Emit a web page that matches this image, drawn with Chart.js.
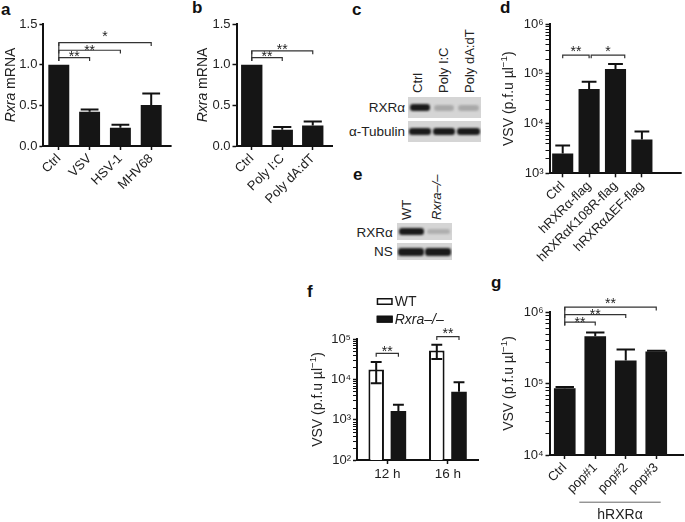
<!DOCTYPE html>
<html>
<head>
<meta charset="utf-8">
<script src="https://cdn.jsdelivr.net/npm/chart.js@4.4.1/dist/chart.umd.min.js"></script>
<style>
  html, body { margin:0; padding:0; background:#fff; }
  body { position:relative; width:685px; height:522px; overflow:hidden; font-family:'Liberation Sans', Arial, Helvetica, sans-serif; color:#222; }
  canvas { position:absolute; }
  .letter { position:absolute; font-weight:bold; font-size:17px; line-height:17px; color:#111; }
  .blot { position:absolute; background:#d5d5d5; overflow:hidden; }
  .band { position:absolute; border-radius:3px; filter:blur(1px); }
  .rl { position:absolute; font-size:13.5px; line-height:15px; white-space:nowrap; text-align:right; }
  .vl { position:absolute; font-size:13px; line-height:14px; white-space:nowrap; transform-origin:0 0; transform:rotate(-90deg) translateY(-50%); }
</style>
</head>
<body>
<div class="letter" style="left:1px;top:0.5px">a</div>
<div class="letter" style="left:192px;top:-1px">b</div>
<div class="letter" style="left:352px;top:0.5px">c</div>
<div class="letter" style="left:500px;top:-1px">d</div>
<div class="letter" style="left:353px;top:165.5px">e</div>
<div class="letter" style="left:307px;top:282.5px">f</div>
<div class="letter" style="left:491px;top:274.3px">g</div>

<!-- panel c blot -->
<div class="vl" style="left:417.5px;top:93px">Ctrl</div>
<div class="vl" style="left:443.5px;top:93px">Poly I:C</div>
<div class="vl" style="left:470px;top:93px">Poly dA:dT</div>
<div class="rl" style="right:280px;top:99.5px">RXRα</div>
<div class="rl" style="right:280px;top:124px">α-Tubulin</div>
<div class="blot" style="left:408px;top:97px;width:73px;height:21px">
  <div class="band" style="left:2px;top:7px;width:20px;height:7px;background:#1a1a1a"></div>
  <div class="band" style="left:26px;top:8px;width:20px;height:6px;background:rgba(90,90,90,0.35)"></div>
  <div class="band" style="left:50px;top:8px;width:21px;height:6px;background:rgba(90,90,90,0.35)"></div>
</div>
<div class="blot" style="left:408px;top:121px;width:73px;height:21px">
  <div class="band" style="left:1px;top:7px;width:22px;height:7px;background:#1a1a1a"></div>
  <div class="band" style="left:25px;top:7px;width:22px;height:7px;background:#1a1a1a"></div>
  <div class="band" style="left:49px;top:7px;width:23px;height:7px;background:#1a1a1a"></div>
</div>

<!-- panel e blot -->
<div class="vl" style="left:406.7px;top:220px">WT</div>
<div class="vl" style="left:436.7px;top:220px;font-style:italic">Rxra–/–</div>
<div class="rl" style="right:292.3px;top:225px">RXRα</div>
<div class="rl" style="right:292.3px;top:244px">NS</div>
<div class="blot" style="left:397px;top:223px;width:55px;height:17px">
  <div class="band" style="left:2px;top:5px;width:25px;height:7px;background:#1a1a1a"></div>
  <div class="band" style="left:30px;top:6px;width:23px;height:5px;background:rgba(90,90,90,0.3)"></div>
</div>
<div class="blot" style="left:397px;top:243px;width:55px;height:17px">
  <div class="band" style="left:1px;top:5px;width:26px;height:8px;background:#1a1a1a"></div>
  <div class="band" style="left:28px;top:5px;width:26px;height:8px;background:#1a1a1a"></div>
</div>

<canvas id="cA"></canvas>
<canvas id="cB"></canvas>
<canvas id="cD"></canvas>
<canvas id="cF"></canvas>
<canvas id="cG"></canvas>

<script>
// ---------------- DATA ----------------
const aCategories = ['Ctrl', 'VSV', 'HSV-1', 'MHV68'];
const aValues = [1.0, 0.42, 0.225, 0.505];
const aErrors = [0, 0.028, 0.035, 0.14];
const aYTicks = [0, 0.5, 1.0, 1.5];
const aBrackets = [[0, 1, 1.086, '**'], [0, 2, 1.177, '**'], [0, 3, 1.27, '*']];

const bCategories = ['Ctrl', 'Poly I:C', 'Poly dA:dT'];
const bValues = [1.0, 0.20, 0.253];
const bErrors = [0, 0.033, 0.047];
const bBrackets = [[0, 1, 1.086, '**'], [0, 2, 1.17, '**']];

const dCategories = ['Ctrl', 'hRXRα-flag', 'hRXRαK108R-flag', 'hRXRαΔEF-flag'];
const dValues = [2500, 49500, 125000, 4800];
const dErrors = [1100, 19500, 32000, 2100];
const dBrackets = [[0, 1, 238000, '**'], [1.08, 2.35, 238000, '*']];

const fCategories = ['12 h', '16 h'];
const fSeries = ['WT', 'Rxra–/–'];
const fWT = [17500, 52000];
const fWTErrors = [9500, 20000];
const fKO = [1650, 4900];
const fKOErrors = [700, 3600];
const fBrackets = [[0, 44000, '**'], [1, 114000, '**']];

const gCategories = ['Ctrl', 'pop#1', 'pop#2', 'pop#3'];
const gValues = [86000, 458000, 209000, 280000];
const gErrors = [3000, 60000, 91000, 8000];
const gBrackets = [[0, 1, 720000, '**'], [0, 2, 916000, '**'], [0, 3, 1170000, '**']];
const gGroupLabel = 'hRXRα';

// ---------------- HELPERS ----------------
const FONT = "'Liberation Sans', Arial, Helvetica, sans-serif";
const TICK_SIZE = 13, TITLE_SIZE = 14, STAR_SIZE = 14;
Chart.defaults.font.family = FONT;
Chart.defaults.color = '#222';
const SUP = {'0':'⁰','1':'¹','2':'²','3':'³','4':'⁴','5':'⁵','6':'⁶','7':'⁷','8':'⁸','9':'⁹','-':'⁻'};
function isPow10(v) { if (!(v > 0)) return false; const p = Math.log10(v); return Math.abs(p - Math.round(p)) < 1e-6; }
function pow10Label(v) { if (!isPow10(v)) return ''; return '10' + String(Math.round(Math.log10(v))).split('').map(c => SUP[c]).join(''); }

const VSV_TITLE = [{t:'VSV (p.f.u µl'}, {t:'−1', sup:true}, {t:')'}];

function drawRich(ctx, segs, cx, cy, size) {
  ctx.save();
  ctx.translate(cx, cy); ctx.rotate(-Math.PI / 2);
  ctx.fillStyle = '#222'; ctx.textAlign = 'left'; ctx.textBaseline = 'alphabetic';
  let total = 0;
  const m = segs.map(s => {
    const sz = s.sup ? size * 0.7 : size;
    const f = (s.i ? 'italic ' : '') + sz + 'px ' + FONT;
    ctx.font = f; const w = ctx.measureText(s.t).width; total += w;
    return {f, w};
  });
  let x = -total / 2;
  segs.forEach((s, k) => {
    ctx.font = m[k].f;
    ctx.fillText(s.t, x, s.sup ? size * 0.35 - size * 0.42 : size * 0.35);
    x += m[k].w;
  });
  ctx.restore();
}

const figPlugin = {
  id: 'fig',
  afterDatasetsDraw(chart, args, o) {
    if (!o.errors) return;
    const ctx = chart.ctx, ys = chart.scales.y;
    ctx.save();
    ctx.strokeStyle = '#111'; ctx.lineWidth = 2;
    o.errors.forEach((errs, di) => {
      if (!errs) return;
      const meta = chart.getDatasetMeta(di);
      const vals = chart.data.datasets[di].data;
      meta.data.forEach((bar, i) => {
        const e = errs[i]; if (!e) return;
        const v = vals[i];
        const yTop = ys.getPixelForValue(v + e);
        const both = o.twoSided && o.twoSided[di];
        const yBot = both ? ys.getPixelForValue(v - e) : bar.y;
        const half = bar.width * o.cap / 2;
        ctx.beginPath();
        ctx.moveTo(bar.x, yBot); ctx.lineTo(bar.x, yTop);
        ctx.moveTo(bar.x - half, yTop); ctx.lineTo(bar.x + half, yTop);
        if (both) { ctx.moveTo(bar.x - half, yBot); ctx.lineTo(bar.x + half, yBot); }
        ctx.stroke();
      });
    });
    ctx.restore();
  },
  afterDraw(chart, args, o) {
    const ctx = chart.ctx, xs = chart.scales.x, ys = chart.scales.y, ca = chart.chartArea;
    const step = xs.getPixelForValue(1) - xs.getPixelForValue(0);
    const xAt = v => xs.getPixelForValue(0) + v * step;
    ctx.save();
    if (o.ext) {
      ctx.strokeStyle = '#111'; ctx.lineWidth = 2;
      ctx.beginPath(); ctx.moveTo(ca.right - 1, Math.round(ca.bottom)); ctx.lineTo(ca.right + o.ext, Math.round(ca.bottom)); ctx.stroke();
    }
    if (o.minor) {
      ctx.strokeStyle = '#111'; ctx.lineWidth = 1;
      const p0 = Math.round(Math.log10(ys.min)), p1 = Math.round(Math.log10(ys.max));
      ctx.beginPath();
      for (let p = p0; p < p1; p++) for (let m = 2; m <= 9; m++) {
        const y = Math.round(ys.getPixelForValue(m * Math.pow(10, p))) + 0.5;
        ctx.moveTo(ca.left - 1 - o.minor, y); ctx.lineTo(ca.left, y);
      }
      ctx.stroke();
    }
    if (o.title) drawRich(ctx, o.title, o.titleX, (ca.top + ca.bottom) / 2, TITLE_SIZE);
    if (o.brackets) {
      const tk = 3.3;
      const items = o.brackets.map((b, k) => {
        let x1, x2, yv, label;
        if (o.pairMode) {
          const cat = b[0];
          x1 = chart.getDatasetMeta(0).data[cat].x; x2 = chart.getDatasetMeta(1).data[cat].x;
          yv = b[1]; label = b[2];
        } else { x1 = xAt(b[0]); x2 = xAt(b[1]); yv = b[2]; label = b[3]; }
        return {x1, x2, y: ys.getPixelForValue(yv), label, gap: o.gaps[k]};
      });
      ctx.strokeStyle = '#333'; ctx.lineWidth = 1.2;
      ctx.fillStyle = '#222'; ctx.font = STAR_SIZE + 'px ' + FONT; ctx.textAlign = 'center'; ctx.textBaseline = 'alphabetic';
      items.forEach(it => {
        ctx.beginPath();
        ctx.moveTo(it.x1, it.y + tk); ctx.lineTo(it.x1, it.y); ctx.lineTo(it.x2, it.y); ctx.lineTo(it.x2, it.y + tk);
        ctx.stroke();
        ctx.fillText(it.label, (it.x1 + it.x2) / 2, it.y - it.gap + 0.575 * STAR_SIZE);
      });
      if (o.joinLeft && items.length > 1) {
        const ysv = items.map(i => i.y);
        ctx.beginPath(); ctx.moveTo(items[0].x1, Math.min(...ysv)); ctx.lineTo(items[0].x1, Math.max(...ysv) + tk); ctx.stroke();
      }
    }
    if (o.legend) {
      const lg = o.legend;
      chart.data.datasets.forEach((ds, i) => {
        const y = lg.y + i * lg.dy;
        ctx.fillStyle = ds.backgroundColor; ctx.fillRect(lg.x, y, lg.w, lg.h);
        ctx.strokeStyle = '#111'; ctx.lineWidth = 1.5; ctx.strokeRect(lg.x + 0.75, y + 0.75, lg.w - 1.5, lg.h - 1.5);
        ctx.fillStyle = '#222'; ctx.font = (lg.italic[i] ? 'italic ' : '') + '14px ' + FONT;
        ctx.textAlign = 'left'; ctx.textBaseline = 'middle';
        ctx.fillText(ds.label, lg.x + lg.w + lg.tx, y + lg.h / 2 + 0.5);
      });
    }
    if (o.group) {
      const g = o.group; const x1 = xAt(g.from), x2 = xAt(g.to);
      ctx.strokeStyle = '#666'; ctx.lineWidth = 1;
      ctx.beginPath(); ctx.moveTo(x1, g.y + 0.5); ctx.lineTo(x2, g.y + 0.5); ctx.stroke();
      ctx.fillStyle = '#222'; ctx.font = '14px ' + FONT; ctx.textAlign = 'center'; ctx.textBaseline = 'middle';
      ctx.fillText(g.text, (x1 + x2) / 2, g.ty);
    }
    ctx.restore();
  }
};

function buildChart(id, box, area, o) {
  const cv = document.getElementById(id);
  cv.width = box.w; cv.height = box.h;
  cv.style.left = box.x + 'px'; cv.style.top = box.y + 'px';
  cv.style.width = box.w + 'px'; cv.style.height = box.h + 'px';
  const L = area.left - box.x, T = area.top - box.y, R = box.x + box.w - area.right, B = area.bottom - box.y;
  const xH = box.h - B;
  const fig = Object.assign({}, o.fig, {titleX: o.titleX - box.x});
  if (fig.group) fig.group = Object.assign({}, fig.group, {y: fig.group.y - box.y, ty: fig.group.ty - box.y});
  if (fig.legend) fig.legend = Object.assign({}, fig.legend, {x: fig.legend.x - box.x, y: fig.legend.y - box.y});
  return new Chart(cv, {
    type: 'bar',
    data: { labels: o.labels, datasets: o.datasets },
    plugins: [figPlugin],
    options: {
      responsive: false, animation: false, devicePixelRatio: 1,
      layout: { padding: { left: 0, top: T, right: R, bottom: 0 } },
      plugins: { legend: { display: false }, tooltip: { enabled: false }, fig },
      scales: {
        x: {
          type: 'category', offset: true, z: 1,
          grid: { display: true, drawOnChartArea: false, drawTicks: true, tickLength: 4, tickWidth: 1.5, tickColor: '#111', offset: false },
          border: { display: true, color: '#111', width: 2 },
          ticks: { color: '#222', font: { size: o.xFont || TICK_SIZE }, padding: o.xPad || 1, autoSkip: false, minRotation: o.rot, maxRotation: o.rot },
          afterFit(s) { s.height = xH; s.paddingLeft = 0; s.paddingRight = 0; }
        },
        y: Object.assign({
          z: 1,
          grid: { display: true, drawOnChartArea: false, drawTicks: true, tickLength: 4, tickWidth: 1.5, tickColor: o.yTickColor || '#111' },
          border: { display: true, color: '#111', width: 2 },
          ticks: Object.assign({ color: '#222', font: { size: TICK_SIZE }, padding: 2, autoSkip: false }, o.yTicks),
          afterFit(s) { s.width = L; s.paddingTop = 0; s.paddingBottom = 0; }
        }, o.y)
      }
    }
  });
}

const BAR = '#151515';
const logTickColor = ctx => (ctx.tick && isPow10(ctx.tick.value)) ? '#111' : 'rgba(0,0,0,0)';

// Panel a
buildChart('cA', {x:0, y:0, w:180, h:215}, {left:43.4, top:24, right:166.6, bottom:146}, {
  labels: aCategories, rot: 45, titleX: 10,
  datasets: [{ label: 'Rxra mRNA', data: aValues, backgroundColor: BAR, borderWidth: 0, barPercentage: 0.68, categoryPercentage: 1 }],
  y: { type: 'linear', min: aYTicks[0], max: aYTicks[aYTicks.length - 1] },
  yTicks: { stepSize: 0.5, callback: v => Number(v).toFixed(1) },
  fig: { errors: [aErrors], cap: 0.85, ext: 5, title: [{t:'Rxra', i:true}, {t:' mRNA'}],
         brackets: aBrackets, gaps: [4.4, 3.5, 9.4], joinLeft: true }
});

// Panel b
buildChart('cB', {x:180, y:0, w:160, h:215}, {left:236.5, top:24, right:328, bottom:146}, {
  labels: bCategories, rot: 45, titleX: 202,
  datasets: [{ label: 'Rxra mRNA', data: bValues, backgroundColor: BAR, borderWidth: 0, barPercentage: 0.7, categoryPercentage: 1 }],
  y: { type: 'linear', min: aYTicks[0], max: aYTicks[aYTicks.length - 1] },
  yTicks: { stepSize: 0.5, callback: v => Number(v).toFixed(1) },
  fig: { errors: [bErrors], cap: 0.85, ext: 5, title: [{t:'Rxra', i:true}, {t:' mRNA'}],
         brackets: bBrackets, gaps: [4.4, 5], joinLeft: true }
});

// Panel d
buildChart('cD', {x:495, y:0, w:190, h:262}, {left:549.5, top:24, right:655.1, bottom:173.3}, {
  labels: dCategories, rot: 45, titleX: 508.3,
  datasets: [{ label: 'VSV', data: dValues, backgroundColor: BAR, borderWidth: 0, barPercentage: 0.8, categoryPercentage: 1 }],
  y: { type: 'logarithmic', min: 1e3, max: 1e6 },
  yTicks: { callback: v => pow10Label(v) }, yTickColor: logTickColor,
  fig: { errors: [dErrors], cap: 0.7, ext: 26.6, minor: 3, title: VSV_TITLE,
         brackets: dBrackets, gaps: [7.3, 7.3], joinLeft: false }
});

// Panel f
buildChart('cF', {x:300, y:280, w:185, h:242}, {left:357, top:339, right:478.2, bottom:460}, {
  labels: fCategories, rot: 0, titleX: 316.7, xFont: 13.5, xPad: 2,
  datasets: [
    { label: fSeries[0], data: fWT, backgroundColor: '#ffffff', borderColor: '#111', borderWidth: 2, borderSkipped: 'start', barPercentage: 0.7, categoryPercentage: 0.733 },
    { label: fSeries[1], data: fKO, backgroundColor: BAR, borderWidth: 0, barPercentage: 0.7, categoryPercentage: 0.733 }
  ],
  y: { type: 'logarithmic', min: 1e2, max: 1e5 },
  yTicks: { callback: v => pow10Label(v) }, yTickColor: logTickColor,
  fig: { errors: [fWTErrors, fKOErrors], twoSided: [true, false], cap: 0.7, ext: 0, minor: 3, title: VSV_TITLE,
         brackets: fBrackets, gaps: [5, 6.7], pairMode: true,
         legend: { x: 376.7, y: 298, w: 16, h: 7, dy: 17.7, tx: 2, italic: [false, true] } }
});

// Panel g
buildChart('cG', {x:495, y:270, w:190, h:252}, {left:549.5, top:312, right:671.5, bottom:455}, {
  labels: gCategories, rot: 45, titleX: 508.3,
  datasets: [{ label: 'VSV', data: gValues, backgroundColor: BAR, borderWidth: 0, barPercentage: 0.71, categoryPercentage: 1 }],
  y: { type: 'logarithmic', min: 1e4, max: 1e6 },
  yTicks: { callback: v => pow10Label(v) }, yTickColor: logTickColor,
  fig: { errors: [gErrors], cap: 0.85, ext: 12.5, minor: 3, title: VSV_TITLE,
         brackets: gBrackets, gaps: [3, 3.4, 7.6], joinLeft: true,
         group: { from: 0.477, to: 3.146, y: 501.7, ty: 515, text: gGroupLabel } }
});
</script>
</body>
</html>
